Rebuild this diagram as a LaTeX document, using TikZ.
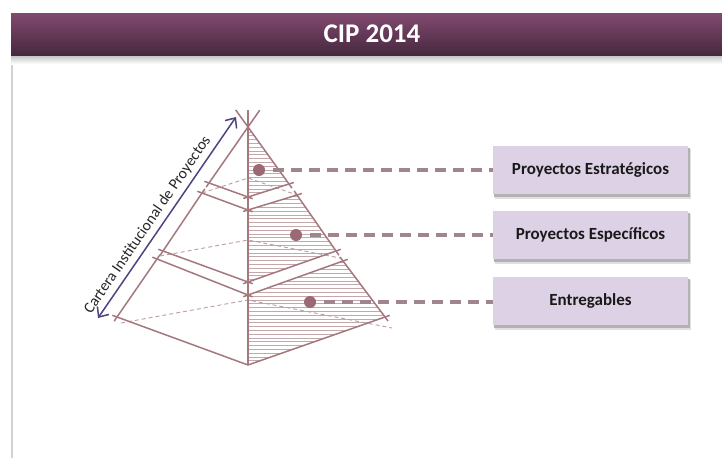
\documentclass[tikz,border=0pt]{standalone}
\usepackage{fontspec}
\setmainfont{Carlito}
\usetikzlibrary{arrows.meta,calc,shadows}
\definecolor{pyr}{RGB}{165,120,125}
\definecolor{hatchc}{RGB}{195,168,172}
\definecolor{backc}{RGB}{185,158,162}
\definecolor{dotc}{RGB}{155,105,115}
\definecolor{connc}{RGB}{160,132,142}
\definecolor{boxc}{RGB}{221,210,229}
\definecolor{hdrtop}{RGB}{130,74,112}
\definecolor{hdrbot}{RGB}{70,40,62}
\definecolor{arrc}{RGB}{78,68,128}
\tikzset{
  edge/.style={draw=pyr,line width=1.5pt,shorten <=-5pt,shorten >=-5pt},
  backedge/.style={draw=backc,line width=0.9pt,dash pattern=on 4pt off 3pt},
  hatchline/.style={draw=hatchc,line width=0.6pt},
  dotnode/.style={circle,fill=dotc,minimum size=12pt,inner sep=0pt},
  conn/.style={draw=connc,line width=4pt,dash pattern=on 11pt off 7pt,shorten <=8pt},
  boxnode/.style={fill=boxc,minimum width=195pt,minimum height=48pt,inner sep=0pt,
     font=\fontsize{17}{20}\selectfont\bfseries,text=black!90},
}
\begin{document}
\begin{tikzpicture}[x=1pt,y=-1pt]
\useasboundingbox (0,0) rectangle (722,458);
\fill[white] (0,0) rectangle (722,458);
% left border and header shadow
\draw[black!18,line width=1.5pt] (12,55) -- (12,458);
\shade[top color=black!25,bottom color=white] (11,55) rectangle (722,64);
\shade[top color=hdrtop,bottom color=hdrbot] (11,13) rectangle (722,55);
\node[text=white,font=\fontsize{27}{30}\selectfont\bfseries] (title) at (372,34) {CIP 2014};

% pyramid coordinates
\coordinate (A) at (248,127);
\coordinate (TL) at (209,183); \coordinate (TF) at (248,197); \coordinate (TR) at (289,184);
\coordinate (ML) at (202,193); \coordinate (MF) at (248,210); \coordinate (MR) at (297,195);
\coordinate (MLb) at (163,251); \coordinate (MFb) at (248,282); \coordinate (MRb) at (336,251);
\coordinate (BL) at (157,259); \coordinate (BF) at (248,295); \coordinate (BR) at (343,261);
\coordinate (BLb) at (117,317); \coordinate (BFb) at (248,365); \coordinate (BRb) at (385,317);

% hatching of right faces
\begin{scope}
\clip (A) -- (TF) -- (TR) -- cycle;
\foreach \y in {128,131.8,...,200} \draw[hatchline] (240,\y) -- (300,\y);
\end{scope}
\begin{scope}
\clip (MF) -- (MR) -- (MRb) -- (MFb) -- cycle;
\foreach \y in {192,195.8,...,285} \draw[hatchline] (240,\y) -- (345,\y);
\end{scope}
\begin{scope}
\clip (BF) -- (BR) -- (BRb) -- (BFb) -- cycle;
\foreach \y in {258,261.8,...,368} \draw[hatchline] (240,\y) -- (395,\y);
\end{scope}

% back (hidden) edges
\draw[backedge] (ML) -- (248,178) -- (MR);
\draw[backedge] (160,256) -- (248,240) -- (340,258);
\draw[backedge] (121,323) -- (248,300) -- (392,328);

% visible edges
\draw[pyr,line width=1.5pt] (248,110) -- (BFb);
\draw[pyr,line width=1.5pt] (A) -- ($(A)!-0.3!(TL)$);
\draw[pyr,line width=1.5pt] (A) -- ($(A)!-0.3!(TR)$);
\draw[edge,shorten >=0pt] (TL) -- (A);
\draw[edge,shorten >=0pt] (TR) -- (A);
\draw[edge] (TL) -- (TF);
\draw[edge] (TF) -- (TR);
\draw[edge] (ML) -- (MF);
\draw[edge] (MF) -- (MR);
\draw[edge] (ML) -- (MLb);
\draw[edge] (MR) -- (MRb);
\draw[edge] (MLb) -- (MFb);
\draw[edge] (MFb) -- (MRb);
\draw[edge] (BL) -- (BF);
\draw[edge] (BF) -- (BR);
\draw[edge] (BL) -- (BLb);
\draw[edge] (BR) -- (BRb);
\draw[edge,shorten >=0pt] (BLb) -- (BFb);
\draw[edge,shorten <=0pt] (BFb) -- (BRb);

% dots
\node[dotnode] (d1) at (259,170) {};
\node[dotnode] (d2) at (296,235) {};
\node[dotnode] (d3) at (310,302) {};

% boxes with shadows
\foreach \cy/\nm/\txt in {170/b1/Proyectos Estratégicos, 235/b2/Proyectos Específicos, 301/b3/Entregables}{
  \fill[black!12] (495,\cy-24+3) rectangle (691,\cy+24+5);
  \fill[black!30] (494,\cy-24+2) rectangle (690,\cy+24+3);
  \node[boxnode] (\nm) at (590.5,\cy) {\txt};
}

% connectors
\draw[conn] (d1) -- (d1 -| b1.west);
\draw[conn] (d2) -- (d2 -| b2.west);
\draw[conn] (d3) -- (d3 -| b3.west);

% side arrow
\coordinate (arrS) at (98,318);
\coordinate (arrE) at (236,117);
\draw[arrc,line width=1.5pt,{Straight Barb[length=8pt,width=14pt]}-{Straight Barb[length=8pt,width=14pt]}] (arrS) -- (arrE)
  node[pos=0.43,sloped,above=1pt,text=black!85,font=\fontsize{15.5}{18}\selectfont] (lbl) {Cartera Institucional de Proyectos};
\end{tikzpicture}
\end{document}
